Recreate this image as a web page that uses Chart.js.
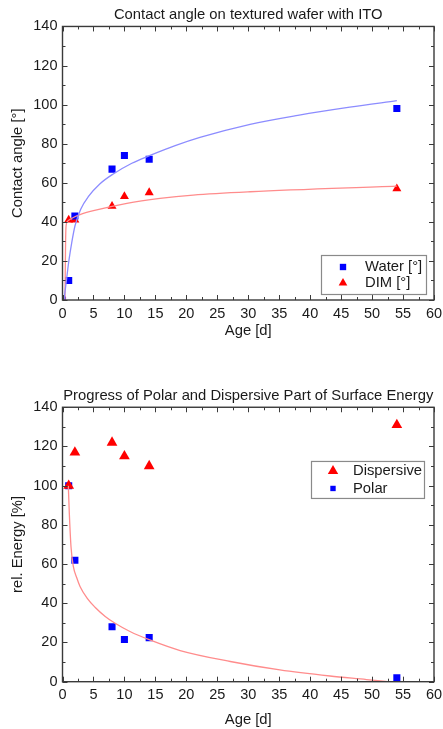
<!DOCTYPE html>
<html>
<head>
<meta charset="utf-8">
<script src="https://cdn.jsdelivr.net/npm/chart.js@4.4.1/dist/chart.umd.min.js"></script>
<style>
    html, body { margin: 0; padding: 0; background: #fff; }
    #top { position: absolute; left: 0; top: 0; width: 443px; height: 345px; }
    #bottom { position: absolute; left: 0; top: 345px; width: 443px; height: 384px; }
</style>
</head>
<body>
<div id="top"><canvas id="grafico1"></canvas></div>
<div id="bottom"><canvas id="grafico2"></canvas></div>
<script>
// top chart: contact angle
const ageWater = [0, 1, 2, 8, 10, 14, 54];
const water = [0, 10, 43, 67, 74, 72, 98];
const ageDim = [1, 2, 8, 10, 14, 54];
const dim = [41, 41, 48, 53, 55, 57];
// fit curves, points
const waterFitX = [0.24, 0.67, 1.05, 1.5, 2.02, 2.94, 4.2, 6.06, 8.2, 11.2, 14.15, 18.2, 22.2, 30.3, 38, 46.4, 54];
const waterFitY = [0, 11, 20.5, 29.5, 38, 46.5, 53, 59.5, 64.5, 70, 74, 79, 83.2, 89.9, 94.5, 98.7, 102];
const dimFitX = [0.4, 0.5, 0.58, 0.8, 1, 2, 2.83, 5, 10.4, 15.75, 21.1, 30.3, 54];
const dimFitY = [0, 30, 38, 40.3, 40.8, 42.6, 43.7, 45.7, 49.5, 52, 53.7, 55.4, 58.3];

// bottom chart: surface energy
const ageEnergy = [1, 2, 8, 10, 14, 54];
const dispersive = [100, 117, 122, 115, 110, 131];
const polar = [100, 62, 28, 21.5, 22.5, 2];
const polarFitX = [0.94, 1.1, 1.37, 1.75, 2.3, 2.83, 4, 5.25, 6.9, 8.5, 10.9, 14.1, 19, 27.1, 35.1, 43.2, 49.1, 52.5];
const polarFitY = [100, 86, 69, 58.8, 53, 48.6, 42.5, 38, 33.3, 29.8, 25.6, 21.3, 15.9, 10.3, 6, 2.9, 1.1, 0];

const xTicks = { min: 0, max: 60, step: 5 };
const yTicks = { min: 0, max: 140, step: 20 };

const FONT = "'Liberation Sans', Arial, sans-serif";
const BLUE = '#0000ff';
const RED = '#ff0000';

function pares(xs, ys) {
    return xs.map((v, i) => ({ x: v, y: ys[i] }));
}

// frame with inward ticks on all four sides
const molduraTicks = {
    id: 'molduraTicks',
    afterDraw(chart) {
        const { ctx, chartArea: a, scales: { x, y } } = chart;
        ctx.save();
        ctx.strokeStyle = '#3a3a3a';
        ctx.lineWidth = 1;
        ctx.beginPath();
        for (let v = xTicks.min; v <= xTicks.max; v += xTicks.step / 2) {
            const px = Math.round(x.getPixelForValue(v)) + 0.5;
            const len = v % xTicks.step === 0 ? 5 : 3;
            ctx.moveTo(px, a.bottom); ctx.lineTo(px, a.bottom - len);
            ctx.moveTo(px, a.top); ctx.lineTo(px, a.top + len);
        }
        for (let v = yTicks.min; v <= yTicks.max; v += yTicks.step / 2) {
            const py = Math.round(y.getPixelForValue(v)) + 0.5;
            const len = v % yTicks.step === 0 ? 5 : 3;
            ctx.moveTo(a.left, py); ctx.lineTo(a.left + len, py);
            ctx.moveTo(a.right, py); ctx.lineTo(a.right - len, py);
        }
        ctx.stroke();
        ctx.lineWidth = 1.4;
        ctx.strokeRect(a.left, a.top, a.right - a.left, a.bottom - a.top);
        ctx.restore();
    }
};

// boxed legend inside the plot area
const legendaCaixa = {
    id: 'legendaCaixa',
    afterDraw(chart, args, opts) {
        const { ctx, chartArea: a } = chart;
        const left = a.right - opts.right - opts.width;
        const top = opts.bottom ? a.bottom - opts.bottom - opts.height : a.top + opts.top;
        ctx.save();
        ctx.fillStyle = '#fff';
        ctx.fillRect(left, top, opts.width, opts.height);
        ctx.strokeStyle = '#8a8a8a';
        ctx.lineWidth = 1.2;
        ctx.strokeRect(left + 0.5, top + 0.5, opts.width, opts.height);
        opts.items.forEach((it, i) => {
            const ds = chart.data.datasets[it.dataset];
            const cy = top + opts.rowTop + i * opts.rowGap;
            ctx.fillStyle = ds.backgroundColor;
            ctx.strokeStyle = ds.backgroundColor;
            Chart.helpers.drawPoint(ctx, { pointStyle: ds.pointStyle, radius: it.radius, rotation: 0, borderWidth: 0 },
                left + opts.markerX, cy);
            ctx.fillStyle = '#1a1a1a';
            ctx.font = '14.8px ' + FONT;
            ctx.textBaseline = 'middle';
            ctx.fillText(ds.label, left + opts.textX, cy);
        });
        ctx.restore();
    }
};

function eixos(yTitulo, xTituloPad) {
    return {
        x: {
            type: 'linear', min: xTicks.min, max: xTicks.max,
            grid: { display: false, drawTicks: false },
            border: { display: false },
            ticks: { stepSize: xTicks.step, padding: 5, color: '#1a1a1a', font: { family: FONT, size: 14.5 } },
            title: { display: true, text: 'Age [d]', color: '#1a1a1a', font: { family: FONT, size: 14.8 },
                padding: { top: 0, bottom: xTituloPad } },
            afterFit(scale) {
                scale.height = scale.chart.height - scale.chart.options.plotBottom;
                scale.paddingRight = 0;
                scale.paddingLeft = 0;
            }
        },
        y: {
            type: 'linear', min: yTicks.min, max: yTicks.max,
            grid: { display: false, drawTicks: false },
            border: { display: false },
            ticks: { stepSize: yTicks.step, padding: 5, color: '#1a1a1a', font: { family: FONT, size: 14.5 } },
            title: { display: true, text: yTitulo, color: '#1a1a1a', font: { family: FONT, size: 14.8 },
                padding: { top: 9, bottom: 0 } },
            afterFit(scale) { scale.width = 62.5; }
        }
    };
}

function titulo(texto, padTop, padBottom) {
    return {
        display: true, text: texto, color: '#1a1a1a', fullSize: false,
        font: { family: FONT, size: 14.8, weight: 'normal' },
        padding: { top: padTop, bottom: padBottom }
    };
}

new Chart(document.getElementById('grafico1').getContext('2d'), {
    type: 'scatter',
    data: {
        datasets: [
            { label: 'water fit', data: pares(waterFitX, waterFitY), type: 'line', showLine: true,
              borderColor: '#8c8cff', borderWidth: 1.3, pointRadius: 0, cubicInterpolationMode: 'monotone', clip: 0 },
            { label: 'dim fit', data: pares(dimFitX, dimFitY), type: 'line', showLine: true,
              borderColor: '#ff8c8c', borderWidth: 1.3, pointRadius: 0, cubicInterpolationMode: 'monotone', clip: 0 },
            { label: 'Water [°]', data: pares(ageWater, water), pointStyle: 'rect', pointRadius: 5,
              backgroundColor: BLUE, borderColor: BLUE, borderWidth: 0, clip: 0 },
            { label: 'DIM [°]', data: pares(ageDim, dim), pointStyle: 'triangle', pointRadius: 5.2,
              backgroundColor: RED, borderColor: RED, borderWidth: 0, clip: 0 }
        ]
    },
    options: {
        responsive: true,
        maintainAspectRatio: false,
        animation: false,
        plotBottom: 300,
        layout: { padding: { left: 0, right: 9, top: 0, bottom: 0 } },
        scales: eixos('Contact angle [°]', 5.5),
        plugins: {
            legend: { display: false },
            tooltip: { enabled: false },
            title: titulo('Contact angle on textured wafer with ITO', 6, 2.7),
            legendaCaixa: {
                right: 8, bottom: 6, width: 105, height: 39, markerX: 22, textX: 44, rowTop: 12, rowGap: 16,
                items: [{ dataset: 2, radius: 4.5 }, { dataset: 3, radius: 5 }]
            }
        }
    },
    plugins: [molduraTicks, legendaCaixa]
});

new Chart(document.getElementById('grafico2').getContext('2d'), {
    type: 'scatter',
    data: {
        datasets: [
            { label: 'polar fit', data: pares(polarFitX, polarFitY), type: 'line', showLine: true,
              borderColor: '#ff8c8c', borderWidth: 1.3, pointRadius: 0, cubicInterpolationMode: 'monotone', clip: 0 },
            { label: 'Dispersive', data: pares(ageEnergy, dispersive), pointStyle: 'triangle', pointRadius: 6.2,
              backgroundColor: RED, borderColor: RED, borderWidth: 0, clip: 0 },
            { label: 'Polar', data: pares(ageEnergy, polar), pointStyle: 'rect', pointRadius: 5,
              backgroundColor: BLUE, borderColor: BLUE, borderWidth: 0, clip: 0 }
        ]
    },
    options: {
        responsive: true,
        maintainAspectRatio: false,
        animation: false,
        plotBottom: 336.7,
        layout: { padding: { left: 0, right: 9, top: 0, bottom: 0 } },
        scales: eixos('rel. Energy [%]', 0),
        plugins: {
            legend: { display: false },
            tooltip: { enabled: false },
            title: titulo('Progress of Polar and Dispersive Part of Surface Energy', 42.5, 2),
            legendaCaixa: {
                right: 10, top: 53.7, width: 113, height: 37, markerX: 22, textX: 42, rowTop: 10, rowGap: 17.5,
                items: [{ dataset: 1, radius: 6 }, { dataset: 2, radius: 3.8 }]
            }
        }
    },
    plugins: [molduraTicks, legendaCaixa]
});
</script>
</body>
</html>
